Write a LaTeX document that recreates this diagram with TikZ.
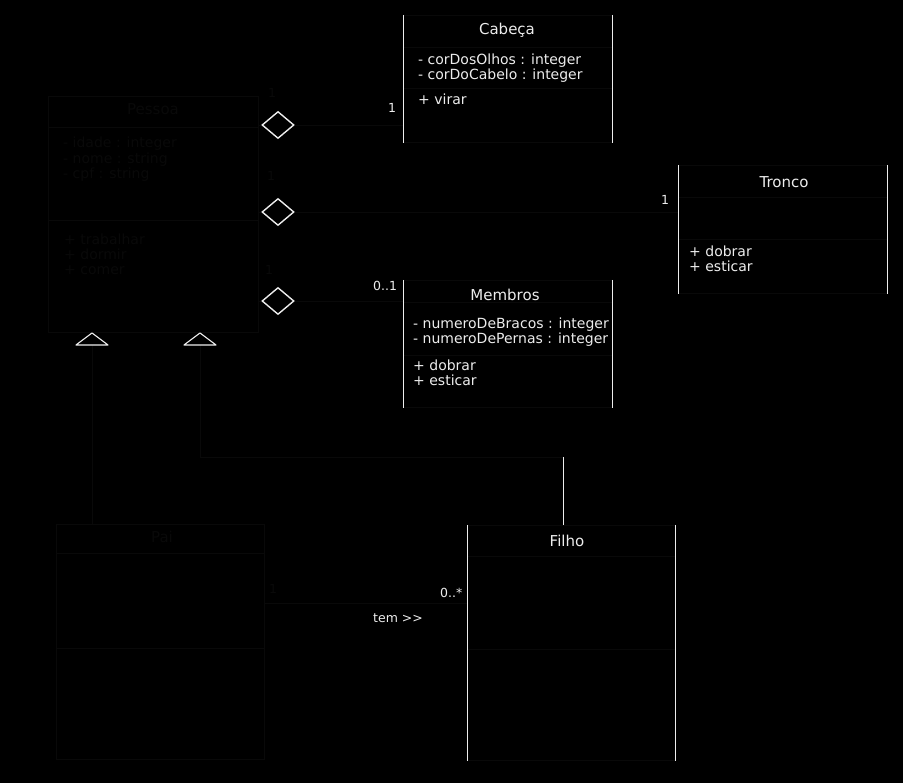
\documentclass[tikz,border=0pt]{standalone}
\usepackage{fontspec}
\setmainfont{DejaVu Sans}
\usetikzlibrary{shapes.geometric,positioning}
\definecolor{umlghost}{gray}{0.035}
\definecolor{umllit}{gray}{0.93}

\begin{document}
\begin{tikzpicture}[x=1pt,y=-1pt,
  cls/.style={rectangle,draw=umlghost,line width=0.9pt,inner sep=0pt,anchor=north west},
  edge/.style={draw=umllit,line width=1pt},
  rel/.style={draw=umlghost,line width=0.9pt},
  ttl/.style={font=\fontsize{15}{16}\selectfont,anchor=base,inner sep=0pt},
  mem/.style={font=\fontsize{14}{15}\selectfont,anchor=base west,inner sep=0pt},
  mult/.style={font=\fontsize{12.5}{14}\selectfont,anchor=base west,inner sep=0pt},
  comp/.style={diamond,draw=umllit,fill=black,line width=1.4pt,inner sep=0pt,
    minimum width=32pt,minimum height=27pt},
  gen/.style={draw=umllit,fill=black,line width=1.1pt,line join=round}]
  \fill[black] (0,0) rectangle (903,783);
  \useasboundingbox (0,0) rectangle (903,783);

  % classes
  \node[cls,minimum width=210,minimum height=236] (pessoa) at (48,96) {};
  \node[cls,minimum width=209,minimum height=127] (cabeca) at (403,15) {};
  \node[cls,minimum width=209,minimum height=128] (tronco) at (678,165) {};
  \node[cls,minimum width=209,minimum height=127] (membros) at (403,280) {};
  \node[cls,minimum width=208,minimum height=235] (pai) at (56,524) {};
  \node[cls,minimum width=208,minimum height=235] (filho) at (467,525) {};
  \foreach \c/\a/\b in {pessoa/127/220,cabeca/47/88,tronco/197/239,
      membros/302/355,pai/553/648,filho/556/649}
    \draw[rel] (\c.west |- 0,\a) -- (\c.east |- 0,\a)
               (\c.west |- 0,\b) -- (\c.east |- 0,\b);
  \foreach \c in {cabeca,tronco,membros,filho}
    \draw[edge] (\c.north west) -- (\c.south west) (\c.north east) -- (\c.south east);

  % titles
  \node[ttl,text=umlghost] (tpessoa) at (153,115) {Pessoa};
  \node[ttl,text=umllit] (tcabeca) at (507,35) {Cabeça};
  \node[ttl,text=umllit] (ttronco) at (784,188) {Tronco};
  \node[ttl,text=umllit] (tmembros) at (505,301) {Membros};
  \node[ttl,text=umlghost] (tpai) at (162,543) {Pai};
  \node[ttl,text=umllit] (tfilho) at (567,547) {Filho};

  % members
  \foreach \t [count=\k from 0] in {- idade : integer,- nome : string,- cpf : string}
    \node[mem,text=umlghost] (pa\k) at (63,148+15.5*\k) {\t};
  \foreach \t [count=\k from 0] in {+ trabalhar,+ dormir,+ comer}
    \node[mem,text=umlghost] (pm\k) at (64,245+15*\k) {\t};
  \foreach \t [count=\k from 0] in {- corDosOlhos : integer,- corDoCabelo : integer}
    \node[mem,text=umllit] (ca\k) at (418,65+15*\k) {\t};
  \node[mem,text=umllit] (cm0) at (418,105) {+ virar};
  \foreach \t [count=\k from 0] in {+ dobrar,+ esticar}
    \node[mem,text=umllit] (tm\k) at (689,257+15*\k) {\t};
  \foreach \t [count=\k from 0] in {- numeroDeBracos : integer,- numeroDePernas : integer}
    \node[mem,text=umllit] (ma\k) at (413,329+15*\k) {\t};
  \foreach \t [count=\k from 0] in {+ dobrar,+ esticar}
    \node[mem,text=umllit] (mm\k) at (413,371+15*\k) {\t};

  % composition
  \node[comp] (dcab) at (278,125) {};
  \node[comp] (dtro) at (278,212) {};
  \node[comp] (dmem) at (278,301) {};
  \foreach \d/\c in {dcab/cabeca,dtro/tronco,dmem/membros}
    \draw[rel] (\d.west -| pessoa.east) -- (\d.west) (\d.east) -- (\d.east -| \c.west);

  % generalization
  \coordinate (gpai) at (92,345);
  \coordinate (gfil) at (200,345);
  \coordinate (jfil) at (563,457);
  \draw[rel] (gpai) -- (gpai |- pai.north);
  \draw[rel] (gfil) |- (jfil);
  \draw[edge] (jfil) -- (jfil |- filho.north);
  \foreach \g in {gpai,gfil}
    \draw[gen] (\g) ++(-16,0) -- ++(16,-12) -- ++(16,12) -- cycle;

  % association
  \coordinate (apf) at (pai.east |- 0,603);
  \draw[rel] (apf) -- (apf -| filho.west);

  % multiplicities
  \node[mult,text=umlghost] (m1) at (268,98) {1};
  \node[mult,text=umlghost] (m2) at (267,181) {1};
  \node[mult,text=umlghost] (m3) at (265,275) {1};
  \node[mult,text=umllit] (m4) at (388,113) {1};
  \node[mult,text=umllit] (m5) at (661,205) {1};
  \node[mult,text=umllit] (m6) at (373,291) {0..1};
  \node[mult,text=umlghost] (m7) at (269,593) {1};
  \node[mult,text=umllit] (m8) at (440,597) {0..*};
  \node[mult,text=umllit] (ltem) at (373,622) {tem >\kern0pt>};
\end{tikzpicture}
\end{document}
